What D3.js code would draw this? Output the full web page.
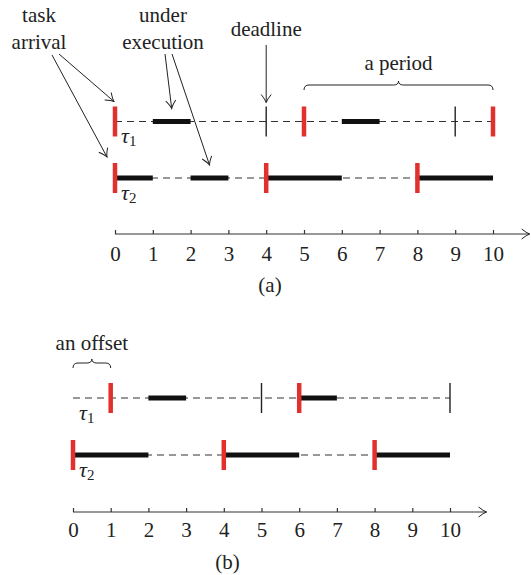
<!DOCTYPE html>
<html>
<head>
<meta charset="utf-8">
<script src="https://cdn.jsdelivr.net/npm/d3@7/dist/d3.min.js"></script>
<style>
  html, body { margin: 0; padding: 0; background: #fff; }
</style>
</head>
<body>
<svg id="chart" width="531" height="575" style="font-family:'Liberation Serif'"></svg>
<script>
// ---------------- data ----------------
const tasks = ["τ1", "τ2"];
const tickValues = [0, 1, 2, 3, 4, 5, 6, 7, 8, 9, 10];

// panel (a)
const arrivalsA = { "τ1": [0, 5, 10], "τ2": [0, 4, 8] };
const execA     = { "τ1": [[1, 2], [6, 7]], "τ2": [[0, 1], [2, 3], [4, 6], [8, 10]] };
const deadlinesA = { "τ1": [4, 9], "τ2": [] };

// panel (b)
const arrivalsB = { "τ1": [1, 6], "τ2": [0, 4, 8] };
const execB     = { "τ1": [[2, 3], [6, 7]], "τ2": [[0, 2], [4, 6], [8, 10]] };
const deadlinesB = { "τ1": [5, 10], "τ2": [] };

// ---------------- drawing ----------------
const svg = d3.select("#chart");
const RED = "#e2312d", BLACK = "#111", INK = "#222";
const FONT = "'Liberation Serif'";
const FS = 21;

const defs = svg.append("defs");
defs.append("marker")
  .attr("id", "arr").attr("viewBox", "-9 -6 10 12")
  .attr("refX", 0).attr("refY", 0)
  .attr("markerWidth", 10).attr("markerHeight", 12)
  .attr("markerUnits", "userSpaceOnUse")
  .attr("orient", "auto")
  .append("path").attr("d", "M-8,-5 Q-3,-1 0,0 Q-3,1 -8,5")
  .attr("fill", "none").attr("stroke", INK).attr("stroke-width", 1);

function brace(g, x1, x2, y) {
  const mid = (x1 + x2) / 2, r = 5;
  const d = `M${x1},${y + r} Q${x1},${y} ${x1 + r},${y} L${mid - r},${y} Q${mid},${y} ${mid},${y - 4} Q${mid},${y} ${mid + r},${y} L${x2 - r},${y} Q${x2},${y} ${x2},${y + r}`;
  g.append("path").attr("d", d).attr("fill", "none").attr("stroke", INK).attr("stroke-width", 1);
}

function label(g, x, y, s) {
  g.append("text").attr("x", x).attr("y", y).attr("text-anchor", "middle")
    .style("font-family", FONT).attr("font-size", FS).attr("fill", INK).text(s);
}

function arrow(g, x1, y1, x2, y2) {
  g.append("line").attr("x1", x1).attr("y1", y1).attr("x2", x2).attr("y2", y2)
    .attr("stroke", INK).attr("stroke-width", 1).attr("marker-end", "url(#arr)");
}

function drawPanel(opt) {
  const x = d3.scaleLinear().domain([0, 10]).range(opt.xr);
  const y = d3.scalePoint().domain(tasks).range(opt.yr);
  const g = svg.append("g");

  // axis
  g.append("line").attr("x1", x(0)).attr("x2", x(10.97))
    .attr("y1", opt.axisY).attr("y2", opt.axisY)
    .attr("stroke", "#333").attr("stroke-width", 1.2)
    .attr("marker-end", "url(#arr)");
  const axis = d3.axisBottom(x).tickValues(tickValues).tickFormat(d3.format("d"))
    .tickSizeInner(-4).tickSizeOuter(0).tickPadding(opt.pad);
  const ag = g.append("g").attr("transform", `translate(0,${opt.axisY})`).call(axis);
  ag.select(".domain").remove();
  ag.selectAll(".tick line").attr("stroke", "#333").attr("stroke-width", 1.2);
  ag.selectAll(".tick text").attr("font-size", FS)
    .style("font-family", FONT).attr("fill", INK);

  tasks.forEach(t => {
    const yy = y(t);
    g.append("line").attr("x1", x(0)).attr("x2", x(10))
      .attr("y1", yy).attr("y2", yy)
      .attr("stroke", "#333").attr("stroke-width", 1.1).attr("stroke-dasharray", "7,5");
    g.selectAll(null).data(opt.exec[t]).join("line")
      .attr("x1", d => x(d[0])).attr("x2", d => x(d[1]))
      .attr("y1", yy).attr("y2", yy)
      .attr("stroke", BLACK).attr("stroke-width", 5);
    g.selectAll(null).data(opt.deadlines[t]).join("line")
      .attr("x1", d => x(d)).attr("x2", d => x(d))
      .attr("y1", yy - 15).attr("y2", yy + 15)
      .attr("stroke", INK).attr("stroke-width", 1.4);
    g.selectAll(null).data(opt.arrivals[t]).join("line")
      .attr("x1", d => x(d)).attr("x2", d => x(d))
      .attr("y1", yy - 15).attr("y2", yy + 15)
      .attr("stroke", RED).attr("stroke-width", 4.5);
    const txt = g.append("text").attr("x", x(0) + 6).attr("y", yy + 21.5)
      .style("font-family", FONT).attr("font-size", FS + 1).attr("fill", INK);
    txt.append("tspan").attr("font-style", "italic").text("τ");
    txt.append("tspan").attr("font-size", 15).attr("dy", 3).text(t.slice(1));
  });

  label(g, x(4.1), opt.capY, opt.caption);
  return { x, y, g };
}

// ---- panel (a)
const A = drawPanel({
  xr: [115, 493], yr: [121.5, 178], axisY: 234, pad: 12, capY: 292, caption: "(a)",
  arrivals: arrivalsA, exec: execA, deadlines: deadlinesA
});
const ga = A.g, yA = A.y;
label(ga, 39, 22, "task");
label(ga, 39, 49, "arrival");
label(ga, 163, 22, "under");
label(ga, 163, 49, "execution");
label(ga, A.x(4), 36, "deadline");
label(ga, A.x(7.5), 70, "a period");
arrow(ga, 59, 54, A.x(0) - 1, yA("τ1") - 20);
arrow(ga, 52, 55, A.x(0) - 8, yA("τ2") - 21);
arrow(ga, 165, 54, A.x(1.5), yA("τ1") - 13);
arrow(ga, 172, 54, A.x(2.5), yA("τ2") - 13);
arrow(ga, A.x(4), 45, A.x(4), yA("τ1") - 19);
brace(ga, A.x(5), A.x(10), 85);

// ---- panel (b)
const B = drawPanel({
  xr: [73, 450], yr: [398, 455], axisY: 512, pad: 10, capY: 569, caption: "(b)",
  arrivals: arrivalsB, exec: execB, deadlines: deadlinesB
});
label(B.g, B.x(0.5), 350, "an offset");
brace(B.g, B.x(0), B.x(1), 363);
</script>
</body>
</html>
